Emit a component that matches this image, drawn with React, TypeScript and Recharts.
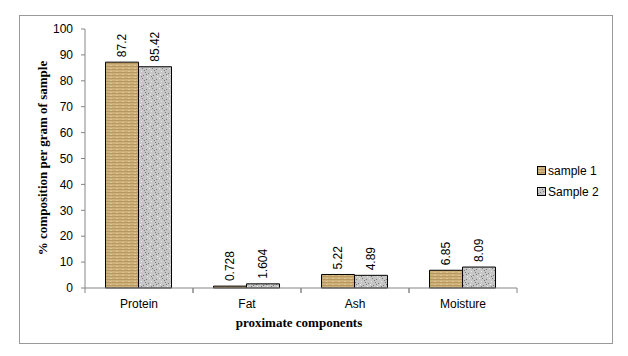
import React from 'react';
import { BarChart, Bar, XAxis, YAxis, LabelList } from 'recharts';

const categories = ['Protein', 'Fat', 'Ash', 'Moisture'];
const sample1 = [87.2, 0.728, 5.22, 6.85];
const sample2 = [85.42, 1.604, 4.89, 8.09];
const yTicks = [0, 10, 20, 30, 40, 50, 60, 70, 80, 90, 100];

const data = categories.map((name, i) => ({ name, s1: sample1[i], s2: sample2[i] }));

const FONT = 'Arial, "Liberation Sans", sans-serif';
const SERIF = '"Liberation Serif", "Times New Roman", serif';

// fixed texture dots for the grey fill
const specks = [
  [1, 1], [5, 2], [3, 5], [7, 6], [2, 8], [6, 9], [0, 4], [4, 0], [8, 3], [9, 8], [1, 6], [6, 4],
];

const Patterns = () => (
  <svg width={0} height={0} style={{ position: 'absolute' }}>
    <defs>
      <pattern id="tan" width={6} height={3} patternUnits="userSpaceOnUse">
        <rect width={6} height={3} fill="#CDB07A" />
        <rect y={0} width={6} height={1} fill="#B8985E" />
        <rect x={2} y={2} width={2} height={1} fill="#DCC493" />
      </pattern>
      <pattern id="grey" width={10} height={10} patternUnits="userSpaceOnUse">
        <rect width={10} height={10} fill="#C6C6C6" />
        {specks.map(([x, y], i) => (
          <rect key={i} x={x} y={y} width={1} height={1} fill={i % 3 === 0 ? '#EDEDED' : '#7A7A7A'} />
        ))}
      </pattern>
    </defs>
  </svg>
);

const CatTick = (props: any) => {
  const { x, y, payload } = props;
  const half = 54;
  return (
    <g>
      <line x1={x - half} y1={y} x2={x - half} y2={y + 5} stroke="#868686" />
      <line x1={x + half} y1={y} x2={x + half} y2={y + 5} stroke="#868686" />
      <text x={x} y={y + 20} textAnchor="middle" fontSize={12} fontFamily={FONT} fill="#000">
        {payload.value}
      </text>
    </g>
  );
};

const RotLabel = (props: any) => {
  const { x, y, width, value } = props;
  const cx = x + width / 2 + 4;
  const cy = y - 5;
  return (
    <text x={cx} y={cy} transform={`rotate(-90 ${cx} ${cy})`} fontSize={12} fontFamily={FONT} fill="#000">
      {value}
    </text>
  );
};

const LegendBox = () => (
  <div style={{ fontFamily: FONT, fontSize: 12, color: '#000' }}>
    {[
      { label: 'sample 1', fill: 'url(#tan)' },
      { label: 'Sample 2', fill: 'url(#grey)' },
    ].map((d) => (
      <div key={d.label} style={{ display: 'flex', alignItems: 'center', height: 21 }}>
        <svg width={9} height={9} style={{ marginRight: 2 }}>
          <rect x={0.5} y={0.5} width={8} height={8} fill={d.fill} stroke="#000" />
        </svg>
        <span>{d.label}</span>
      </div>
    ))}
  </div>
);

export default function App() {
  return (
    <div style={{ position: 'absolute', left: 0, top: 0, width: 628, height: 356, background: '#fff' }}>
      <Patterns />
      <div
        style={{
          position: 'absolute',
          left: 19,
          top: 15,
          width: 592,
          height: 327,
          border: '1px solid #9a9a9a',
        }}
      />
      <div style={{ position: 'absolute', left: 0, top: 0 }}>
        <BarChart
          width={628}
          height={356}
          data={data}
          margin={{ top: 29, right: 111, bottom: 38, left: 5 }}
          barCategoryGap="19%"
          barGap={0}
        >
          <XAxis
            dataKey="name"
            height={30}
            axisLine={{ stroke: '#868686' }}
            tickLine={false}
            tickSize={0}
            tickMargin={0}
            tick={<CatTick />}
            interval={0}
          />
          <YAxis
            domain={[0, 100]}
            ticks={yTicks}
            width={80}
            axisLine={{ stroke: '#868686' }}
            tickLine={{ stroke: '#868686' }}
            tickSize={4}
            tickMargin={8}
            tick={{ fontSize: 12, fontFamily: FONT, fill: '#000' }}
          />
          <Bar dataKey="s1" name="sample 1" fill="url(#tan)" stroke="#000" strokeWidth={1} isAnimationActive={false}>
            <LabelList dataKey="s1" content={<RotLabel />} />
          </Bar>
          <Bar dataKey="s2" name="Sample 2" fill="url(#grey)" stroke="#000" strokeWidth={1} isAnimationActive={false}>
            <LabelList dataKey="s2" content={<RotLabel />} />
          </Bar>
        </BarChart>
      </div>
      <div style={{ position: 'absolute', left: 537, top: 160 }}>
        <LegendBox />
      </div>
      <div
        style={{
          position: 'absolute',
          left: 43,
          top: 158,
          transform: 'translate(-50%, -50%) rotate(-90deg)',
          whiteSpace: 'nowrap',
          fontFamily: SERIF,
          fontWeight: 'bold',
          fontSize: 13,
        }}
      >
        % composition per gram of sample
      </div>
      <div
        style={{
          position: 'absolute',
          left: 299,
          top: 323,
          transform: 'translate(-50%, -50%)',
          whiteSpace: 'nowrap',
          fontFamily: SERIF,
          fontWeight: 'bold',
          fontSize: 13,
        }}
      >
        proximate components
      </div>
    </div>
  );
}
